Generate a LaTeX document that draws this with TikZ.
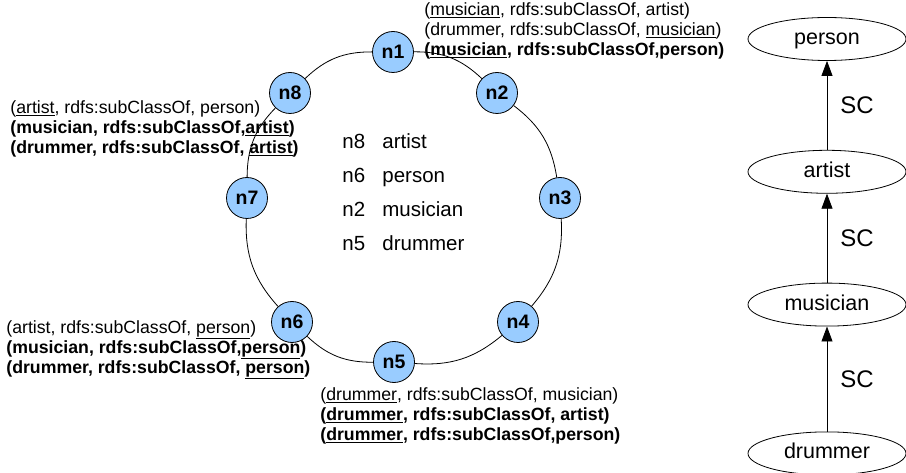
\documentclass[tikz,border=0pt]{standalone}
\usepackage{fontspec}
\setmainfont{Liberation Sans}
\usetikzlibrary{arrows.meta,positioning,shapes.geometric}
\definecolor{peerblue}{RGB}{153,204,255}
\newcommand{\kw}[1]{\underline{#1}}

\begin{document}
\begin{tikzpicture}[
  x=1pt, y=-1pt,
  line width=0.8pt,
  node distance=89pt,
  peer/.style={circle, draw, fill=peerblue, minimum size=41pt, inner sep=0pt, font=\fontsize{19.5}{22}\selectfont\bfseries},
  triples/.style={align=left, inner sep=0pt, anchor=west, font=\fontsize{17.7}{20}\selectfont},
  idx/.style={anchor=west, inner sep=0pt, text height=15pt, text depth=4pt, font=\fontsize{20.5}{24}\selectfont},
  cls/.style={ellipse, draw, minimum width=158pt, minimum height=43pt, inner sep=0pt, text height=15pt, text depth=4pt, font=\fontsize{21.5}{24}\selectfont},
  isa/.style={-{Triangle[width=11pt,length=15pt]}},
  sc/.style={midway, right=13pt, inner sep=0pt, font=\fontsize{24}{26}\selectfont}
]
\useasboundingbox (0,0) rectangle (906,473);

% ring of peers
\node[peer] (n1) at (393,52) {n1};
\node[peer] (n2) at (497,93) {n2};
\node[peer] (n3) at (560,198) {n3};
\node[peer] (n4) at (518,322) {n4};
\node[peer] (n5) at (394,362) {n5};
\node[peer] (n6) at (292,322) {n6};
\node[peer] (n7) at (247,198) {n7};
\node[peer] (n8) at (290,93) {n8};

\foreach \a/\b in {n1/n2,n2/n3,n3/n4,n4/n5,n5/n6,n6/n7,n7/n8,n8/n1}
  \draw (\a) to[bend left=22] (\b);

% index table
\foreach \id/\cl [count=\i] in {n8/artist,n6/person,n2/musician,n5/drummer} {
  \node[idx] (k\i) at (342,109+34*\i) {\id};
  \node[idx] (v\i) at (382,109+34*\i) {\cl};
}

% stored triples
\node[triples] (t1) at (424,31) {(\kw{musician}, rdfs:subClassOf, artist)\\
  (drummer, rdfs:subClassOf, \kw{musician})\\
  \textbf{(\kw{musician}, rdfs:subClassOf,person)}};
\node[triples] (t8) at (10,129) {(\kw{artist}, rdfs:subClassOf, person)\\
  \textbf{(musician, rdfs:subClassOf,\kw{artist})}\\
  \textbf{(drummer, rdfs:subClassOf, \kw{artist})}};
\node[triples] (t6) at (6,350) {(artist, rdfs:subClassOf, \kw{person})\\
  \textbf{(musician, rdfs:subClassOf,\kw{person})}\\
  \textbf{(drummer, rdfs:subClassOf, \kw{person})}};
\node[triples] (t5) at (320,416) {(\kw{drummer}, rdfs:subClassOf, musician)\\
  \textbf{(\kw{drummer}, rdfs:subClassOf, artist)}\\
  \textbf{(\kw{drummer}, rdfs:subClassOf,person)}};

% class hierarchy
\node[cls] (person) at (827,39) {person};
\node[cls, below=of person] (artist) {artist};
\node[cls, below=of artist] (musician) {musician};
\node[cls, below=105pt of musician] (drummer) {drummer};

\draw[isa] (artist) -- (person) node[sc] {SC};
\draw[isa] (musician) -- (artist) node[sc] {SC};
\draw[isa] (drummer) -- (musician) node[sc] {SC};
\end{tikzpicture}
\end{document}
